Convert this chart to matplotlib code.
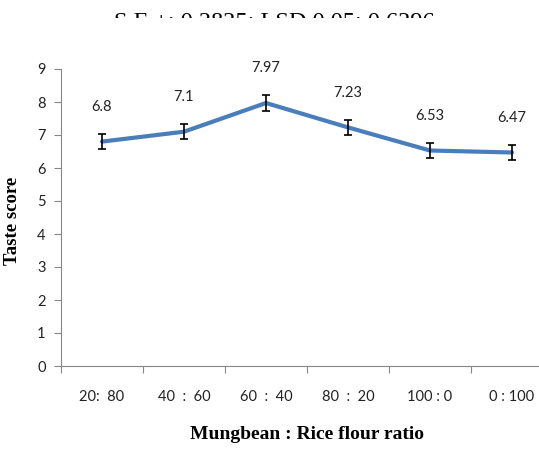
import matplotlib.pyplot as plt
from matplotlib.patches import Rectangle

# data
ratios = ['20:  80', '40  :  60', '60  :  40', '80  :  20', '100 : 0', '0 : 100']
taste = [6.8, 7.1, 7.97, 7.23, 6.53, 6.47]
errors = [0.23, 0.23, 0.23, 0.23, 0.23, 0.23]
yticks = [0, 1, 2, 3, 4, 5, 6, 7, 8, 9]

W, H = 539, 451
fig = plt.figure(figsize=(W / 100, H / 100), dpi=100)

# axes placed in pixels (right edge runs past the picture, as in the reference)
left, right, bottom, top = 61, 553, 366, 69
ax = fig.add_axes([left / W, (H - bottom) / H, (right - left) / W, (bottom - top) / H])
ax.set_zorder(3)

x = list(range(len(ratios)))
ax.plot(x, taste, color='#4A7EBB', linewidth=3, solid_capstyle='round', zorder=2)
ax.errorbar(x, taste, yerr=errors, fmt='none', ecolor='black', elinewidth=1.2,
            capsize=3, capthick=1.2, zorder=3)

for xi, v in zip(x, taste):
    ax.annotate(f'{v:g}', (xi, v), xytext=(0, 25), textcoords='offset points',
                ha='center', va='center', fontsize=10.5, color='#222222', family='Lato')

ax.set_xlim(-0.5, len(ratios) - 0.5)
ax.set_ylim(0, 9)
ax.set_yticks(yticks)
ax.set_xticks([i - 0.5 for i in range(len(ratios) + 1)], minor=False)
ax.set_xticklabels([])
ax.set_xticks(x, minor=True)
ax.set_xticklabels(ratios, minor=True)
ax.tick_params(axis='x', which='minor', length=0, pad=17, labelsize=10.5, labelcolor='#222222')
ax.tick_params(axis='x', which='major', length=5, color='#868686')
ax.tick_params(axis='y', length=5, color='#868686', labelsize=10.5, labelcolor='#222222', pad=6)
for lab in ax.get_yticklabels() + ax.get_xticklabels(minor=True):
    lab.set_family('Lato')

for s in ['top', 'right']:
    ax.spines[s].set_visible(False)
for s in ['left', 'bottom']:
    ax.spines[s].set_color('#868686')

ax.set_xlabel('Mungbean : Rice flour ratio', family='Liberation Serif', fontweight='bold',
              fontsize=14, labelpad=16)
ax.set_ylabel('Taste score', family='Liberation Serif', fontweight='bold', fontsize=13.5)
ax.yaxis.set_label_coords((21 - left) / (right - left), 0.49)

# header line, partly hidden by the chart area below it
fig.text(274 / W, 1 - 11 / H, 'S.E.±: 0.2825; LSD 0.05: 0.6296', family='Liberation Serif',
         fontsize=17.5, ha='center', va='top', zorder=1)
fig.add_artist(Rectangle((0, 0), 1, 1 - 18 / H, transform=fig.transFigure,
                         facecolor='white', edgecolor='none', zorder=2))

fig.savefig('out.png', dpi=100)
